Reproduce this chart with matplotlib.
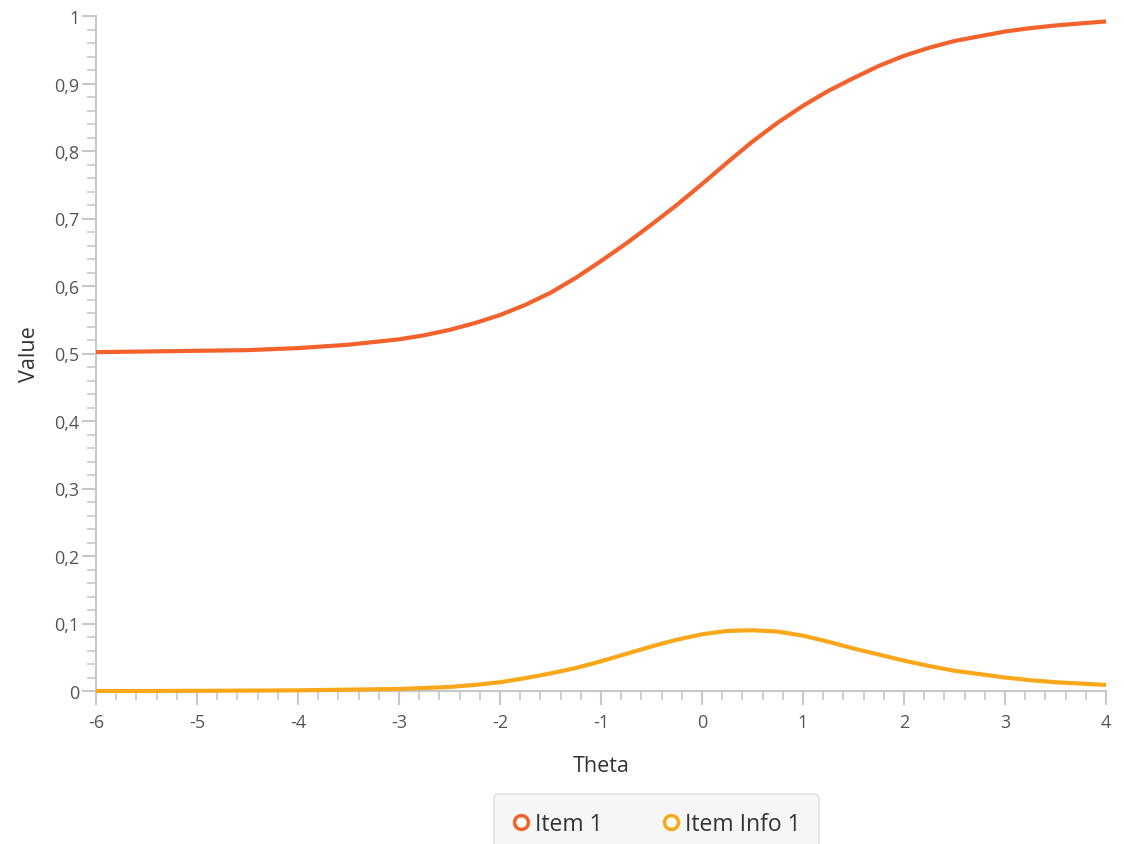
import matplotlib
matplotlib.use("Agg")

import matplotlib.pyplot as plt
from matplotlib.lines import Line2D
from matplotlib.ticker import MultipleLocator, FuncFormatter

# ------------------------------------------------------------
# DATA
# ------------------------------------------------------------

theta = [-6.0, -5.5, -5.0, -4.5, -4.0, -3.5, -3.0, -2.75, -2.5, -2.25,
         -2.0, -1.75, -1.5, -1.25, -1.0, -0.75, -0.5, -0.25, 0.0, 0.25,
         0.5, 0.75, 1.0, 1.25, 1.5, 1.75, 2.0, 2.25, 2.5, 2.75,
         3.0, 3.25, 3.5, 3.75, 4.0]

item_1 = [0.502, 0.503, 0.504, 0.505, 0.508, 0.513, 0.521, 0.527, 0.535, 0.545,
          0.557, 0.572, 0.590, 0.612, 0.637, 0.663, 0.691, 0.720, 0.751, 0.783,
          0.814, 0.842, 0.867, 0.889, 0.908, 0.926, 0.941, 0.953, 0.963, 0.970,
          0.977, 0.982, 0.986, 0.989, 0.992]

item_info_1 = [0.000, 0.000, 0.0003, 0.0006, 0.001, 0.002, 0.003, 0.0045, 0.006, 0.009,
               0.013, 0.019, 0.026, 0.034, 0.044, 0.055, 0.066, 0.076, 0.084, 0.089,
               0.090, 0.088, 0.082, 0.073, 0.063, 0.054, 0.045, 0.037, 0.030, 0.025,
               0.020, 0.016, 0.013, 0.011, 0.009]

series_names = ["Item 1", "Item Info 1"]

# ------------------------------------------------------------
# STYLE
# ------------------------------------------------------------

ITEM_COLOR = "#f3622d"
INFO_COLOR = "#fba71b"
AXIS_GRAY = "#c8c8c8"
TEXT_GRAY = "#555555"

plt.rcParams["font.family"] = ["Open Sans", "DejaVu Sans"]


def comma_fmt(v, _pos):
    if abs(v) < 1e-9:
        return "0"
    if abs(v - 1) < 1e-9:
        return "1"
    return f"{v:.1f}".replace(".", ",")


def int_fmt(v, _pos):
    return f"{int(round(v))}"


fig = plt.figure(figsize=(11.24, 8.45), dpi=100)
ax = fig.add_axes([96 / 1124, 1 - 692 / 845, (1106 - 96) / 1124, (692 - 17) / 845])

for values, color in [(item_1, ITEM_COLOR), (item_info_1, INFO_COLOR)]:
    ax.plot(theta, values, color=color, linewidth=3, solid_joinstyle="round",
            solid_capstyle="butt", zorder=3, clip_on=False)

ax.set_xlim(-6, 4)
ax.set_ylim(0, 1)

ax.xaxis.set_major_locator(MultipleLocator(1))
ax.xaxis.set_minor_locator(MultipleLocator(0.2))
ax.yaxis.set_major_locator(MultipleLocator(0.1))
ax.yaxis.set_minor_locator(MultipleLocator(0.02))
ax.xaxis.set_major_formatter(FuncFormatter(int_fmt))
ax.yaxis.set_major_formatter(FuncFormatter(comma_fmt))

for side in ["top", "right"]:
    ax.spines[side].set_visible(False)
for side in ["left", "bottom"]:
    ax.spines[side].set_color(AXIS_GRAY)
    ax.spines[side].set_linewidth(1.5)

ax.tick_params(which="major", length=10, width=1.5, color=AXIS_GRAY,
               labelsize=13, labelcolor=TEXT_GRAY)
ax.tick_params(which="minor", length=6.5, width=1.2, color=AXIS_GRAY)
ax.tick_params(axis="y", which="major", pad=2)
ax.tick_params(axis="x", which="major", pad=6)

ax.set_xlabel("Theta", fontsize=15.5, color="#333333", labelpad=17)
ax.set_ylabel("Value", fontsize=15.5, color="#333333", labelpad=10)

handles = [
    Line2D([], [], linestyle="none", marker="o", markersize=10,
           markerfacecolor="white", markeredgecolor=ITEM_COLOR, markeredgewidth=2.5),
    Line2D([], [], linestyle="none", marker="o", markersize=10,
           markerfacecolor="white", markeredgecolor=INFO_COLOR, markeredgewidth=2.5),
]
leg = fig.legend(handles, series_names, loc="upper center",
                 bbox_to_anchor=(0.584, 1 - 795 / 845), ncol=2, frameon=True,
                 fontsize=16.5, handletextpad=0.2, columnspacing=2.6,
                 borderpad=0.8, handlelength=0.8, fancybox=True,
                 borderaxespad=0)
leg.get_frame().set_facecolor("#f4f4f4")
leg.get_frame().set_edgecolor("#dcdcdc")
leg.get_frame().set_linewidth(1.2)
for t in leg.get_texts():
    t.set_color("#333333")

fig.savefig("out.png", dpi=100)
